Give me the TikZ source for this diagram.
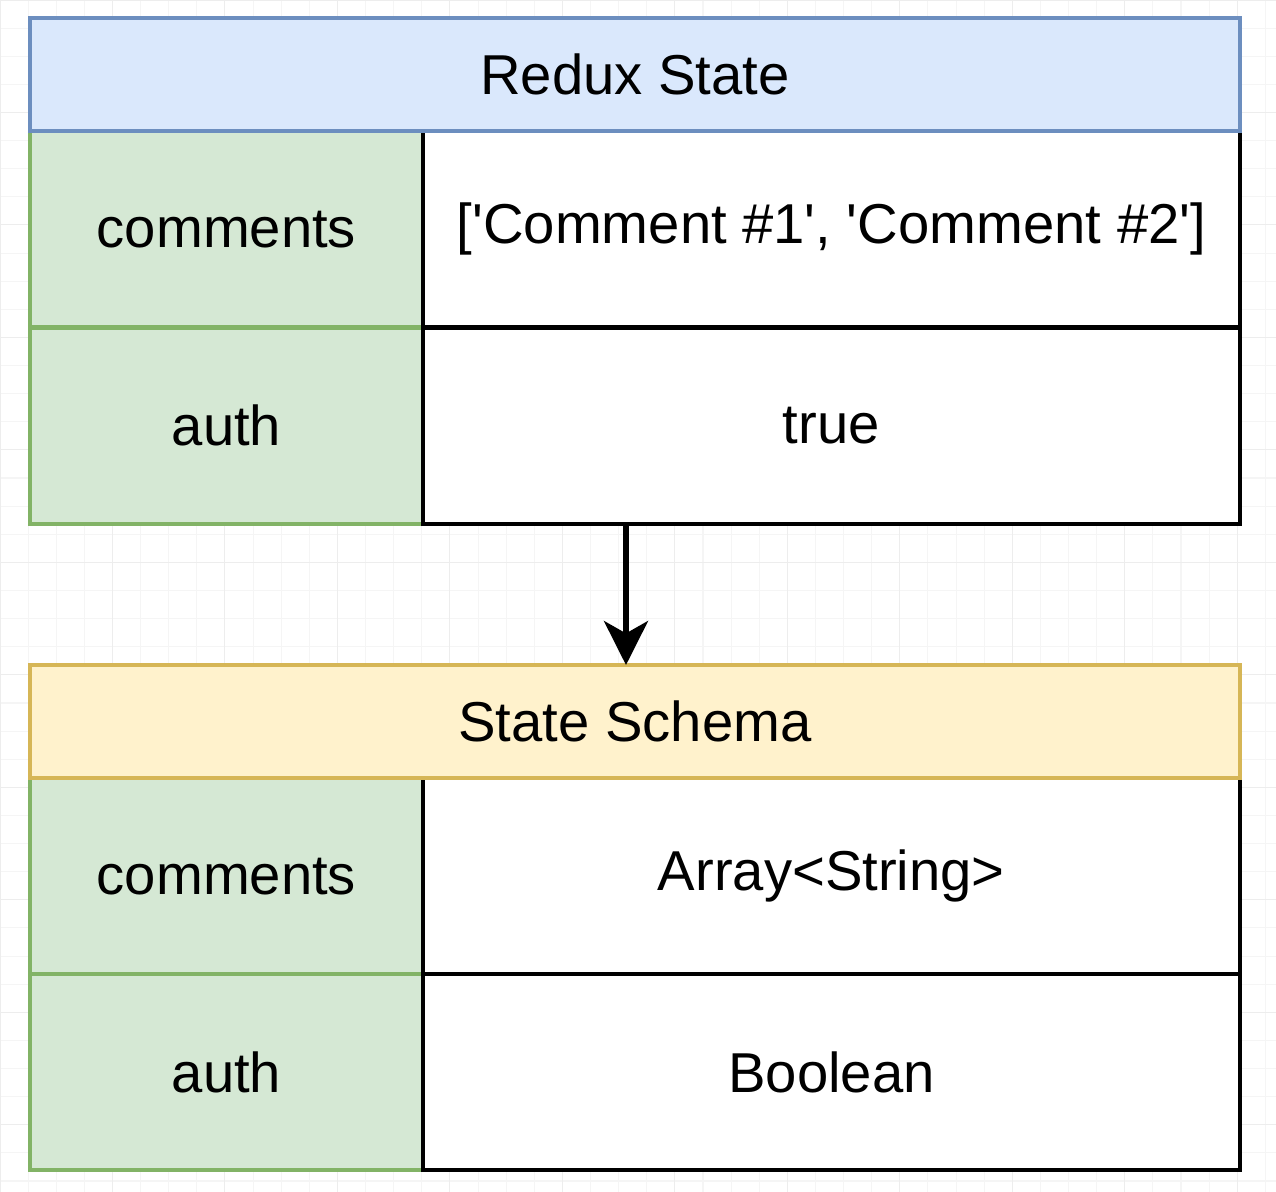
\documentclass[tikz,border=0pt]{standalone}
\usepackage{fontspec}
\setmainfont{Liberation Sans}
\usetikzlibrary{arrows.meta}
\definecolor{hdrblue}{HTML}{DAE8FC}
\definecolor{hdrblueline}{HTML}{6C8EBF}
\definecolor{hdryellow}{HTML}{FFF2CC}
\definecolor{hdryellowline}{HTML}{D6B656}
\definecolor{keygreen}{HTML}{D5E8D4}
\definecolor{keygreenline}{HTML}{82B366}
\newcommand{\sq}{\textquotesingle}
\tikzset{
  base/.style={anchor=north west, inner sep=0pt, outer sep=0pt, line width=2.3pt,
    font=\fontsize{32}{38}\selectfont},
  keycell/.style={base, draw=keygreenline, fill=keygreen, minimum width=7.86cm, minimum height=3.93cm},
  valcell/.style={base, draw=black, fill=white, minimum width=16.34cm, minimum height=3.93cm},
  statehdr/.style={base, draw=hdrblueline, fill=hdrblue, minimum width=24.2cm, minimum height=2.26cm},
  schemahdr/.style={base, draw=hdryellowline, fill=hdryellow, minimum width=24.2cm, minimum height=2.26cm},
  arrowline/.style={line width=3.2pt, -{Stealth[length=25pt, width=25pt, inset=7pt]}}
}
\begin{document}
\begin{tikzpicture}[x=0.02cm, y=-0.02cm]
\useasboundingbox (0,0) rectangle (1276,1192);
\fill[white] (0,0) rectangle (1276,1192);
\draw[black!4, line width=0.6pt, step=0.5625cm] (0,0) grid (1276,1192);
\draw[black!7, line width=0.6pt, step=2.25cm] (0,0) grid (1276,1192);
% Redux State
\node[keycell] (skey1) at (30,131) {comments};
\node[keycell] (skey2) at (30,327.5) {auth};
\node[valcell] (sval1) at (423,131) {[\sq Comment \#1\sq, \sq Comment \#2\sq]};
\node[valcell] (sval2) at (423,327.5) {true};
\node[statehdr] (state) at (30,18) {Redux State};
% State Schema
\node[keycell] (ckey1) at (30,778) {comments};
\node[keycell] (ckey2) at (30,974) {auth};
\node[valcell] (cval1) at (423,778) {Array<String>};
\node[valcell] (cval2) at (423,974) {Boolean};
\node[schemahdr] (schema) at (30,665) {State Schema};
\coordinate (arrx) at (626,0);
\draw[arrowline] (sval2.south -| arrx) -- (schema.north -| arrx);
%\draw[arrowline] (state.south) -- (schema.north);
\end{tikzpicture}
\end{document}
